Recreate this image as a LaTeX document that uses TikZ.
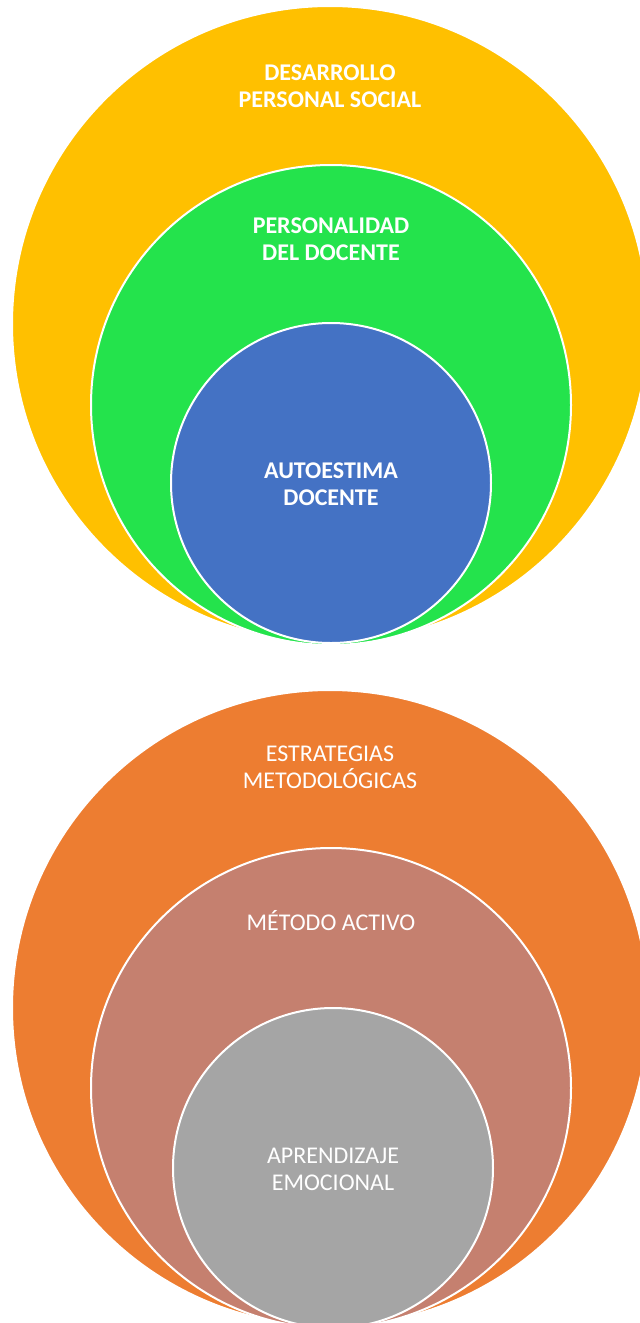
\documentclass[tikz,border=0pt]{standalone}
\usepackage{fontspec}
\setmainfont{Carlito}
\usetikzlibrary{positioning}

\definecolor{cYellow}{HTML}{FFC000}
\definecolor{cGreen}{HTML}{24E34C}
\definecolor{cBlue}{HTML}{4472C4}
\definecolor{cOrange}{HTML}{ED7D31}
\definecolor{cBrown}{HTML}{C5806F}
\definecolor{cGrey}{HTML}{A5A5A5}

\tikzset{
  ring/.style={circle, draw=white, line width=2pt, inner sep=0pt},
  lbl/.style={text=white, align=center, font=\fontsize{24}{27}\selectfont},
  blbl/.style={lbl, font=\fontsize{24}{27}\selectfont\bfseries}
}

\begin{document}
\begin{tikzpicture}[x=1pt, y=-1pt]
    \clip (0,0) rectangle (640,1323);
    % upper set
    \node[ring, fill=cYellow, minimum size=636pt] (desarrollo) at (330,324) {};
    \node[ring, fill=cGreen, minimum size=480pt] (personalidad) at (331,405) {};
    \node[ring, fill=cBlue, minimum size=320pt] (autoestima) at (331,483) {};
    \node[blbl] (tDesarrollo) at ([yshift=-81pt]desarrollo.north) {DESARROLLO\\PERSONAL SOCIAL};
    \node[blbl] (tPersonalidad) at ([yshift=-75pt]personalidad.north) {PERSONALIDAD\\DEL DOCENTE};
    \node[blbl] (tAutoestima) at ([yshift=-1pt]autoestima.center) {AUTOESTIMA\\DOCENTE};
    % lower set
    \node[ring, fill=cOrange, minimum size=636pt] (estrategias) at (330,1008) {};
    \node[ring, fill=cBrown, minimum size=480pt] (metodo) at (331,1088) {};
    \node[ring, fill=cGrey, minimum size=320pt] (aprendizaje) at (333,1168) {};
    \node[lbl] (tEstrategias) at ([yshift=-78pt]estrategias.north) {ESTRATEGIAS\\METODOLÓGICAS};
    \node[lbl] (tMetodo) at ([yshift=-74pt]metodo.north) {MÉTODO ACTIVO};
    \node[lbl] (tAprendizaje) at ([yshift=-1pt]aprendizaje.center) {APRENDIZAJE\\EMOCIONAL};
\end{tikzpicture}
\end{document}
